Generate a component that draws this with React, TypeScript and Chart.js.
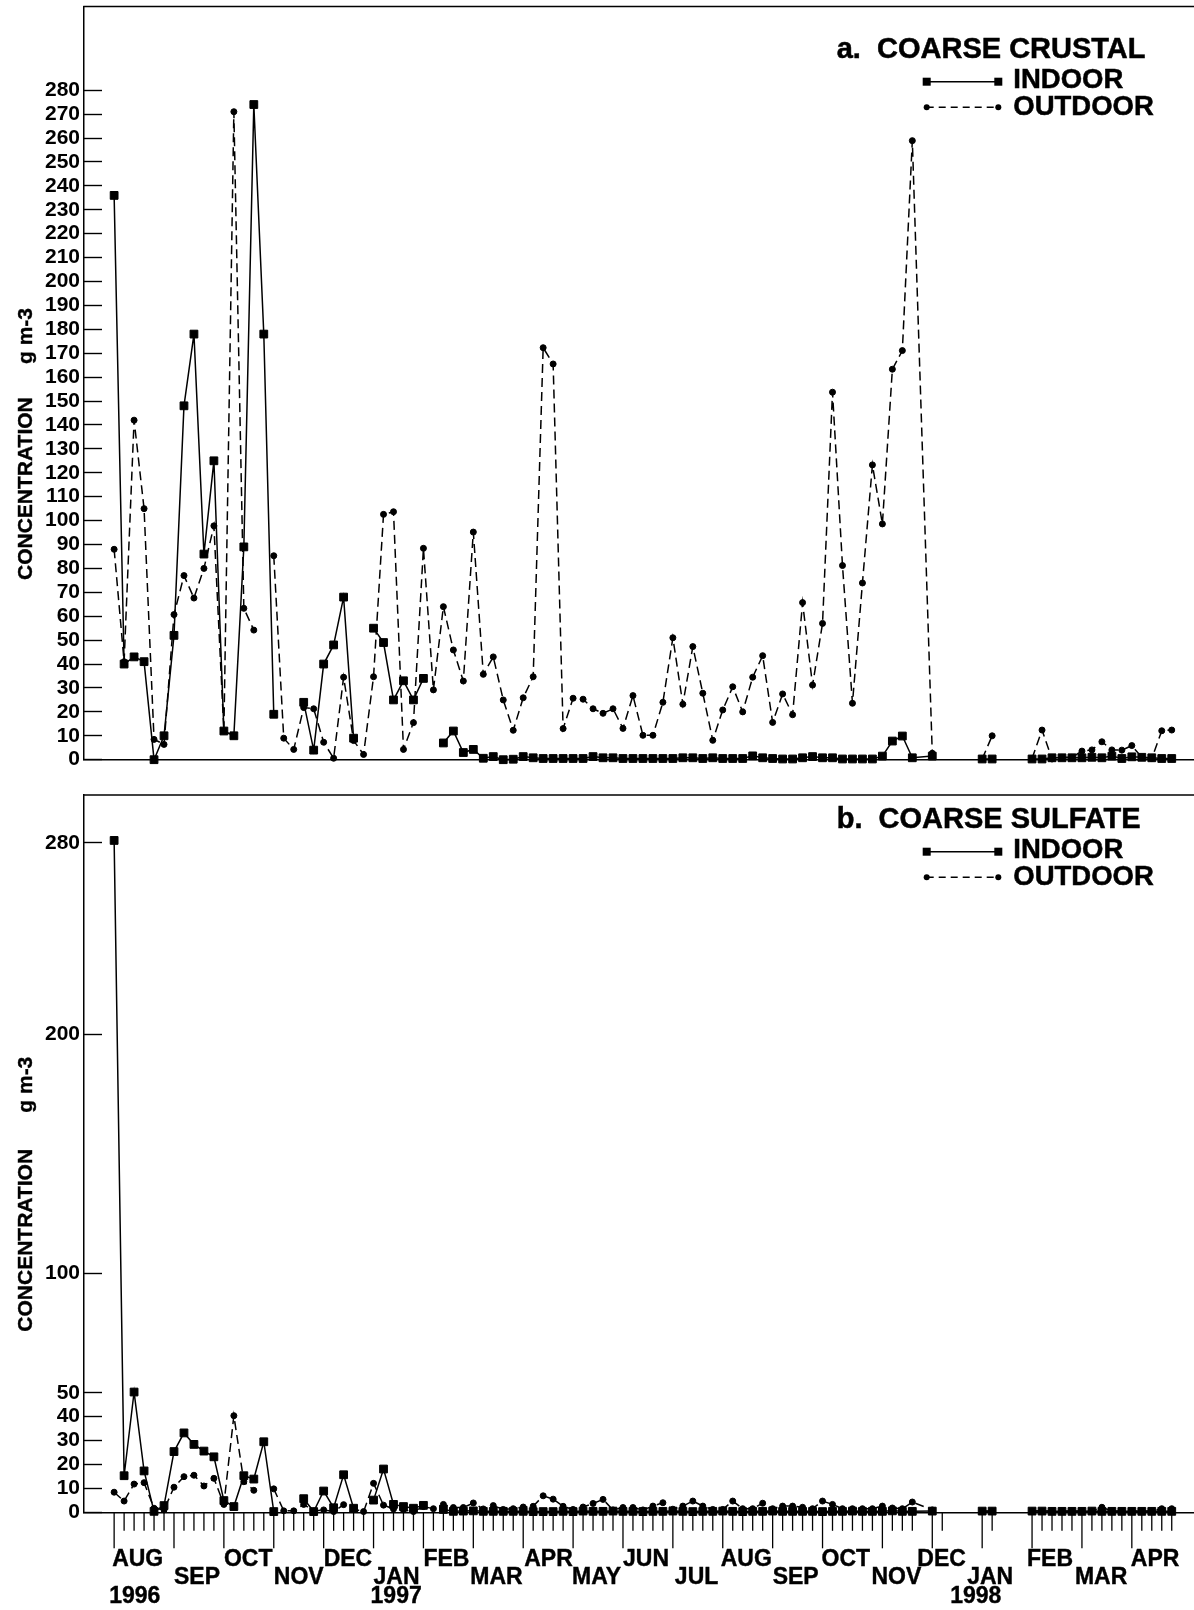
import React, { useEffect, useRef } from "react";
import { Chart, registerables } from "chart.js";

Chart.register(...registerables);

const FONT = "'Liberation Sans', Arial, Helvetica, sans-serif";

// sample slots (weekly tick positions along the x axis)
const weeks = [
  0, 1, 2, 3, 4, 5, 6, 7, 8, 9,
  10, 11, 12, 13, 14, 15, 16, 17, 18, 19,
  20, 21, 22, 23, 24, 25, 26, 27, 28, 29,
  30, 31, 32, 33, 34, 35, 36, 37, 38, 39,
  40, 41, 42, 43, 44, 45, 46, 47, 48, 49,
  50, 51, 52, 53, 54, 55, 56, 57, 58, 59,
  60, 61, 62, 63, 64, 65, 66, 67, 68, 69,
  70, 71, 72, 73, 74, 75, 76, 77, 78, 79,
  80, 82, 83, 87, 88, 92, 93, 94, 95, 96,
  97, 98, 99, 100, 101, 102, 103, 104, 105, 106,
];

const crustalIndoor = [
  236, 40, 43, 41, 0, 10, 52, 148, 178, 86,
  125, 12, 10, 89, 274, 178, 19, null, null, 24,
  4, 40, 48, 68, 9, null, 55, 49, 25, 33,
  25, 34, null, 7, 12, 3, 4.3, 0.6, 1.3, 0,
  0.2, 1.3, 0.8, 0.5, 0.5, 0.5, 0.5, 0.5, 1.3, 0.8,
  0.8, 0.5, 0.5, 0.5, 0.5, 0.5, 0.5, 0.8, 0.8, 0.5,
  0.8, 0.5, 0.5, 0.5, 1.6, 0.8, 0.5, 0.3, 0.3, 0.8,
  1.3, 0.8, 0.8, 0.3, 0.3, 0.3, 0.3, 1.5, 7.8, 9.9,
  0.8, 1.5, null, 0.3, 0.3, 0.3, 0.3, 0.8, 0.8, 0.8,
  0.8, 1.0, 0.8, 1.5, 0.5, 1.2, 1.0, 0.8, 0.5, 0.5,
];

const crustalOutdoor = [
  88, 41, 142, 105, 8.5, 6.4, 60.7, 77, 67.6, 80,
  97.8, 12, 271, 63.3, 54.2, null, 85.3, 9, 4.3, 21.8,
  21.3, 7.3, 0.6, 34.5, 8, 2.2, 34.7, 102.6, 103.7, 4.3,
  15.5, 88.4, 29.2, 64, 45.9, 32.9, 95.2, 35.7, 43, 25,
  12.3, 25.9, 34.7, 172.3, 165.5, 13, 25.7, 25.3, 21.3, 19.4,
  21.3, 13.1, 26.8, 10.2, 10.2, 24, 51, 23.2, 47.3, 27.8,
  8.1, 20.8, 30.5, 20, 34.5, 43.5, 15.6, 27.5, 18.8, 65.7,
  31.2, 57, 153.7, 81.2, 23.6, 73.9, 123.3, 98.6, 163.3, 171.1,
  258.9, 2.7, null, 0.3, 10, 0.5, 12.4, 0.3, 1, 1,
  3.6, 4.1, 7.5, 4.1, 4, 5.9, 1, 0.5, 12.1, 12.4,
];

const sulfateIndoor = [
  281, 15.3, 50.3, 17.3, 0.4, 2.8, 25.4, 33.2, 28.4, 25.6,
  23.2, 4.9, 2.4, 15.3, 13.9, 29.5, 0.3, null, null, 5.7,
  0.3, 8.9, 1.9, 15.7, 1.7, null, 5.1, 18.1, 3.3, 2.4,
  1.7, 2.9, null, 1.2, 0.4, 0.5, 0.6, 0.4, 0.4, 0.4,
  0.4, 0.4, 0.3, 0.3, 0.3, 0.4, 0.3, 0.5, 0.4, 0.4,
  0.5, 0.4, 0.4, 0.3, 0.4, 0.4, 0.5, 0.4, 0.3, 0.4,
  0.4, 0.5, 0.4, 0.3, 0.4, 0.4, 0.5, 0.4, 0.4, 0.4,
  0.4, 0.3, 0.4, 0.4, 0.5, 0.4, 0.4, 0.4, 0.6, 0.4,
  0.4, 0.5, null, 0.5, 0.5, 0.5, 0.5, 0.4, 0.4, 0.4,
  0.4, 0.5, 0.4, 0.4, 0.4, 0.4, 0.4, 0.4, 0.4, 0.4,
];

const sulfateOutdoor = [
  8.4, 4.7, 11.8, 12.4, 1.7, 1, 10.5, 14.9, 15.5, 11,
  14.2, 3.3, 40.4, 12.8, 9.2, null, 9.8, 0.6, 0.6, 3.3,
  0.5, 1, 0.3, 3.2, 1.4, 0.3, 12.1, 3, 1.4, 1,
  0.3, 2.4, 1.5, 3.3, 2, 2, 3.9, 1.4, 2.8, 1.2,
  1.5, 2.2, 2.5, 6.9, 5.5, 2.5, 1.2, 2.2, 3.7, 5.4,
  1, 2, 2, 1, 2.6, 4, 1.3, 2.6, 4.7, 2.6,
  1.2, 1.2, 4.7, 1.5, 1.5, 3.8, 1.5, 2.6, 2.6, 2.1,
  1.5, 4.7, 3.3, 1.5, 1.5, 1.5, 1.5, 2.6, 1.8, 1.5,
  4.3, 1, null, 0.5, 0.5, 0.5, 0.5, 0.5, 0.5, 0.5,
  0.5, 0.5, 2.1, 0.5, 0.5, 0.5, 0.5, 0.5, 1.5, 1.5,
];

const crustalTicks = [0, 10, 20, 30, 40, 50, 60, 70, 80, 90, 100, 110, 120, 130, 140, 150, 160, 170, 180, 190, 200, 210, 220, 230, 240, 250, 260, 270, 280];
const sulfateTicks = [0, 10, 20, 30, 40, 50, 100, 200, 280];

const majorTicks = [0, 6, 11, 16, 21, 26, 31, 36, 41, 46, 51, 56, 61, 66, 71, 77, 82, 87, 92, 97, 102];
const monthLabels = ["AUG", "SEP", "OCT", "NOV", "DEC", "JAN", "FEB", "MAR", "APR", "MAY", "JUN", "JUL", "AUG", "SEP", "OCT", "NOV", "DEC", "JAN", "FEB", "MAR", "APR"];
const monthPos = [-0.2, 6.0, 11.0, 16.0, 21.0, 26.0, 31.0, 35.7, 41.1, 45.9, 51.0, 56.2, 60.8, 66.0, 70.9, 75.9, 80.5, 85.5, 91.5, 96.3, 101.9];
const yearLabels = ["1996", "1997", "1998"];
const yearPos = [-0.5, 25.7, 83.8];

const X_MIN = -3.02;
const X_MAX = 112.19;
const CANVAS_W = 1240;

const gapColor = (c: any) => (c.p1.parsed.x - c.p0.parsed.x > 3 ? "rgba(0,0,0,0)" : undefined);

function makeDatasets(indoor: (number | null)[], outdoor: (number | null)[]) {
  return [
    {
      label: "OUTDOOR",
      data: weeks.map((w, k) => ({ x: w, y: outdoor[k] })),
      borderColor: "#000",
      backgroundColor: "#000",
      borderWidth: 1.5,
      borderDash: [9, 5],
      pointStyle: "circle",
      pointRadius: 3,
      pointBorderWidth: 1,
      pointBackgroundColor: "#000",
      pointBorderColor: "#000",
      pointHoverRadius: 3,
      tension: 0,
      spanGaps: false,
      clip: false,
      segment: { borderColor: gapColor },
    },
    {
      label: "INDOOR",
      data: weeks.map((w, k) => ({ x: w, y: indoor[k] })),
      borderColor: "#000",
      backgroundColor: "#000",
      borderWidth: 1.5,
      pointStyle: "rect",
      pointRadius: 5.5,
      pointBorderWidth: 1,
      pointBackgroundColor: "#000",
      pointBorderColor: "#000",
      pointHoverRadius: 5.5,
      tension: 0,
      spanGaps: false,
      clip: false,
      segment: { borderColor: gapColor },
    },
  ];
}

const topBorderPlugin = {
  id: "topBorder",
  afterDraw(chart: any) {
    const { ctx, chartArea } = chart;
    ctx.save();
    ctx.strokeStyle = "#000";
    ctx.lineWidth = 1.5;
    ctx.beginPath();
    ctx.moveTo(chartArea.left - 0.75, chartArea.top);
    ctx.lineTo(chart.width, chartArea.top);
    ctx.stroke();
    ctx.restore();
  },
};

function boldText(ctx: any, text: string, x: number, y: number) {
  ctx.fillText(text, x, y);
  ctx.strokeText(text, x, y);
}

function yTitlePlugin(conStartY: number, unitEndY: number) {
  return {
    id: "yTitle",
    afterDraw(chart: any) {
      const ctx = chart.ctx;
      ctx.save();
      ctx.fillStyle = "#000";
      ctx.strokeStyle = "#000";
      ctx.lineWidth = 0.4;
      ctx.font = `bold 21px ${FONT}`;
      ctx.textBaseline = "alphabetic";
      ctx.translate(31.5, conStartY);
      ctx.rotate(-Math.PI / 2);
      ctx.textAlign = "left";
      boldText(ctx, "CONCENTRATION", 0, 0);
      ctx.restore();
      ctx.save();
      ctx.fillStyle = "#000";
      ctx.strokeStyle = "#000";
      ctx.lineWidth = 0.4;
      ctx.font = `bold 21px ${FONT}`;
      ctx.textBaseline = "alphabetic";
      ctx.translate(31.5, unitEndY);
      ctx.rotate(-Math.PI / 2);
      ctx.textAlign = "right";
      boldText(ctx, "g m-3", 0, 0);
      ctx.restore();
    },
  };
}

function legendPlugin(title: string, dy: number) {
  return {
    id: "panelLegend",
    afterDraw(chart: any) {
      const ctx = chart.ctx;
      const ds = chart.data.datasets;
      ctx.save();
      ctx.fillStyle = "#000";
      ctx.strokeStyle = "#000";
      ctx.textAlign = "left";
      ctx.textBaseline = "alphabetic";
      ctx.lineWidth = 0.5;
      ctx.font = `bold 29px ${FONT}`;
      boldText(ctx, title, 836.7, 58.3 + dy);
      ctx.font = `bold 27.5px ${FONT}`;
      boldText(ctx, ds[1].label, 1013.3, 88.3 + dy);
      boldText(ctx, ds[0].label, 1013.3, 115 + dy);
      // indoor sample
      const yi = 81.7 + dy;
      ctx.lineWidth = 1.5;
      ctx.setLineDash([]);
      ctx.beginPath();
      ctx.moveTo(926.7, yi);
      ctx.lineTo(998.3, yi);
      ctx.stroke();
      ctx.fillRect(926.7 - 4, yi - 4, 8, 8);
      ctx.fillRect(998.3 - 4, yi - 4, 8, 8);
      // outdoor sample
      const yo = 107.3 + dy;
      ctx.setLineDash([7, 5]);
      ctx.beginPath();
      ctx.moveTo(926.7, yo);
      ctx.lineTo(998.3, yo);
      ctx.stroke();
      ctx.setLineDash([]);
      ctx.beginPath();
      ctx.arc(926.7, yo, 3, 0, Math.PI * 2);
      ctx.fill();
      ctx.beginPath();
      ctx.arc(998.3, yo, 3, 0, Math.PI * 2);
      ctx.fill();
      ctx.restore();
    },
  };
}

const monthAxisPlugin = {
  id: "monthAxis",
  afterDraw(chart: any) {
    const { ctx, chartArea } = chart;
    const xs = chart.scales.x;
    const y0 = chartArea.bottom;
    ctx.save();
    ctx.strokeStyle = "#000";
    ctx.lineWidth = 1.3;
    weeks.forEach((w) => {
      const px = xs.getPixelForValue(w);
      const len = majorTicks.includes(w) ? 36 : 18.5;
      ctx.beginPath();
      ctx.moveTo(px, y0);
      ctx.lineTo(px, y0 + len);
      ctx.stroke();
    });
    ctx.fillStyle = "#000";
    ctx.lineWidth = 0.4;
    ctx.font = `bold 23px ${FONT}`;
    ctx.textAlign = "left";
    ctx.textBaseline = "alphabetic";
    monthLabels.forEach((m, k) => {
      const px = xs.getPixelForValue(monthPos[k]);
      boldText(ctx, m, px, y0 + (k % 2 === 0 ? 53.7 : 71.7));
    });
    yearLabels.forEach((yr, k) => {
      boldText(ctx, yr, xs.getPixelForValue(yearPos[k]), y0 + 90.2);
    });
    ctx.restore();
  },
};

function buildConfig(opts: {
  indoor: (number | null)[];
  outdoor: (number | null)[];
  yMax: number;
  yTicks: number[];
  padTop: number;
  xAxisHeight: number;
  plugins: any[];
}) {
  return {
    type: "line" as const,
    data: { datasets: makeDatasets(opts.indoor, opts.outdoor) as any },
    options: {
      responsive: false,
      animation: false as const,
      devicePixelRatio: 1,
      events: [] as any,
      layout: { padding: { top: opts.padTop, left: 0, right: 0, bottom: 0 } },
      plugins: { legend: { display: false }, tooltip: { enabled: false } },
      scales: {
        x: {
          type: "linear" as const,
          min: X_MIN,
          max: X_MAX,
          display: true,
          grid: { display: false },
          ticks: { display: false },
          border: { display: true, color: "#000", width: 1.5 },
          afterFit: (s: any) => {
            s.height = opts.xAxisHeight;
            s.paddingLeft = 0;
            s.paddingRight = 0;
          },
        },
        y: {
          type: "linear" as const,
          position: "left" as const,
          min: 0,
          max: opts.yMax,
          afterBuildTicks: (s: any) => {
            s.ticks = opts.yTicks.map((v) => ({ value: v }));
          },
          ticks: {
            color: "#000",
            padding: 22,
            autoSkip: false,
            font: { family: FONT, size: 21, weight: "bold" as const },
          },
          grid: { drawOnChartArea: false, tickLength: -18, tickColor: "#000", tickWidth: 1.4 },
          border: { display: true, color: "#000", width: 1.5 },
          afterFit: (s: any) => {
            s.width = 84;
            s.paddingTop = 0;
            s.paddingBottom = 0;
          },
        },
      },
    },
    plugins: opts.plugins,
  };
}

export default function App() {
  const topRef = useRef<HTMLCanvasElement>(null);
  const botRef = useRef<HTMLCanvasElement>(null);

  useEffect(() => {
    const top = new Chart(
      topRef.current as HTMLCanvasElement,
      buildConfig({
        indoor: crustalIndoor,
        outdoor: crustalOutdoor,
        yMax: 315,
        yTicks: crustalTicks,
        padTop: 6.3,
        xAxisHeight: 10.3,
        plugins: [topBorderPlugin, yTitlePlugin(580, 308), legendPlugin("a.  COARSE CRUSTAL", 0)],
      }) as any
    );
    const bot = new Chart(
      botRef.current as HTMLCanvasElement,
      buildConfig({
        indoor: sulfateIndoor,
        outdoor: sulfateOutdoor,
        yMax: 300,
        yTicks: sulfateTicks,
        padTop: 25,
        xAxisHeight: 97.7,
        plugins: [topBorderPlugin, yTitlePlugin(561.7, 286.7), legendPlugin("b.  COARSE SULFATE", 0), monthAxisPlugin],
      }) as any
    );
    return () => {
      top.destroy();
      bot.destroy();
    };
  }, []);

  return (
    <div
      style={{
        position: "absolute",
        left: 0,
        top: 0,
        width: 1194,
        height: 1610,
        overflow: "hidden",
        background: "#fff",
      }}
    >
      <canvas ref={topRef} width={CANVAS_W} height={770} style={{ position: "absolute", left: 0, top: 0 }} />
      <canvas ref={botRef} width={CANVAS_W} height={840} style={{ position: "absolute", left: 0, top: 770 }} />
    </div>
  );
}
